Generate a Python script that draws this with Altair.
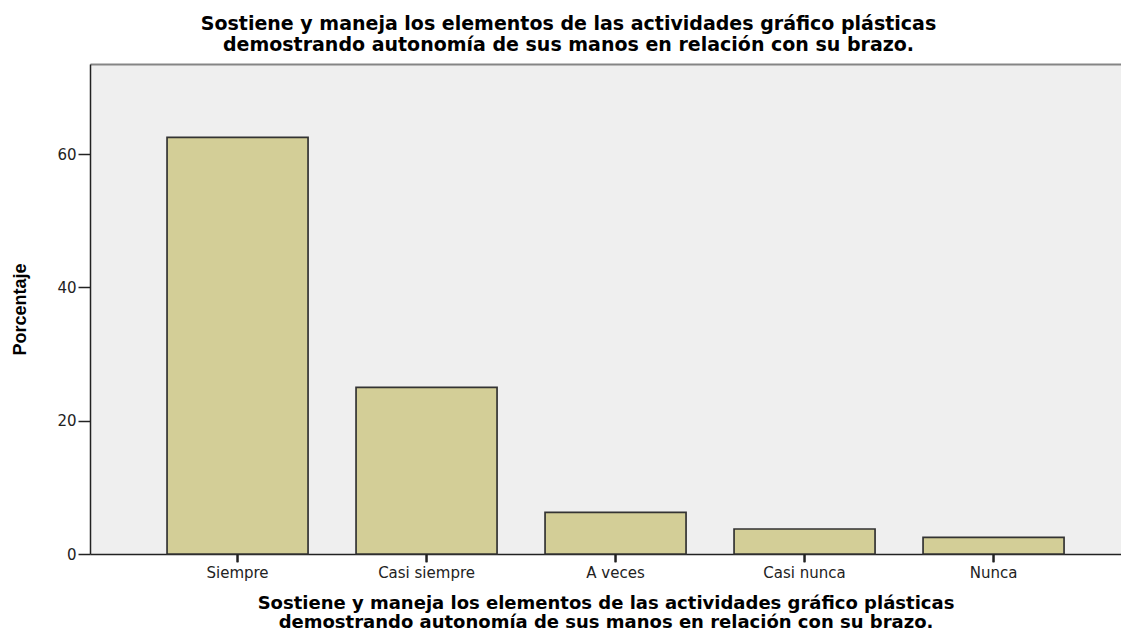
import altair as alt
import pandas as pd

categories = ["Siempre", "Casi siempre", "A veces", "Casi nunca", "Nunca"]
percentages = [62.5, 25.0, 6.25, 3.75, 2.5]
y_ticks = [0, 20, 40, 60]
title_lines = [
    "Sostiene y maneja los elementos de las actividades gráfico plásticas",
    "demostrando autonomía de sus manos en relación con su brazo.",
]
y_title = "Porcentaje"

df = pd.DataFrame({"cat": categories, "pct": percentages})
frame_df = pd.DataFrame({"f": [0.0]})

W, H = 1031, 490

xscale = alt.Scale(domain=categories, paddingInner=0.254, paddingOuter=0.3545, align=0.575)
yscale = alt.Scale(domain=[0, 73.5], nice=False, zero=True)

bars = alt.Chart(df).mark_bar(
    fill="#d3ce97", stroke="#333333", strokeWidth=1.7
).encode(
    x=alt.X(
        "cat:N", sort=categories, scale=xscale,
        axis=alt.Axis(
            title=title_lines, orient="bottom", labelAngle=0,
            labelFont="DejaVu Sans", labelFontSize=15, labelColor="#222222",
            labelPadding=3, ticks=True, tickSize=8, tickWidth=2, tickColor="#222222",
            domainColor="#222222", domainWidth=1.5,
            titleFont="DejaVu Sans", titleFontSize=18, titleFontWeight="bold",
            titleColor="#000000", titlePadding=14, titleLineHeight=19,
            grid=False,
        ),
    ),
    y=alt.Y(
        "pct:Q", scale=yscale,
        axis=alt.Axis(
            title=y_title, values=y_ticks, grid=False,
            labelFont="DejaVu Sans", labelFontSize=15, labelColor="#222222",
            labelPadding=2, tickSize=12, tickColor="#222222", tickWidth=1.5,
            domainColor="#222222", domainWidth=1.5,
            titleFont="Liberation Sans", titleFontSize=18, titleFontWeight="bold",
            titleColor="#000000", titleAngle=-90, titleX=-70, titleY=H / 2,
            titleAlign="center", titleBaseline="middle",
        ),
    ),
)

x_ticks = alt.Chart(df).mark_rule(color="#222222", strokeWidth=2, clip=False).encode(
    x=alt.X("cat:N", sort=categories, scale=xscale, axis=None),
    y=alt.value(H),
    y2=alt.value(H + 8),
)

frame_top = alt.Chart(frame_df).mark_point(opacity=0).encode(
    x=alt.X(
        "f:Q", scale=alt.Scale(domain=[0, 1]),
        axis=alt.Axis(orient="top", labels=False, ticks=False,
                      title=None, domainColor="#858585", domainWidth=2, grid=False),
    ),
)

chart = alt.layer(bars, x_ticks, frame_top).resolve_scale(x="independent").resolve_axis(
    x="independent"
).properties(
    width=W, height=H,
    title=alt.TitleParams(
        text=title_lines, fontSize=19, font="DejaVu Sans", fontWeight="bold",
        anchor="middle", dx=-37, offset=9, lineHeight=21, color="#000000",
    ),
    autosize=alt.AutoSizeParams(type="none"),
    padding={"left": 82, "top": 56, "right": 0, "bottom": 76},
    background="#ffffff",
).configure_view(fill="#efefef", strokeWidth=0)

chart.save("out.html", embed_options={"renderer": "svg", "actions": False})
